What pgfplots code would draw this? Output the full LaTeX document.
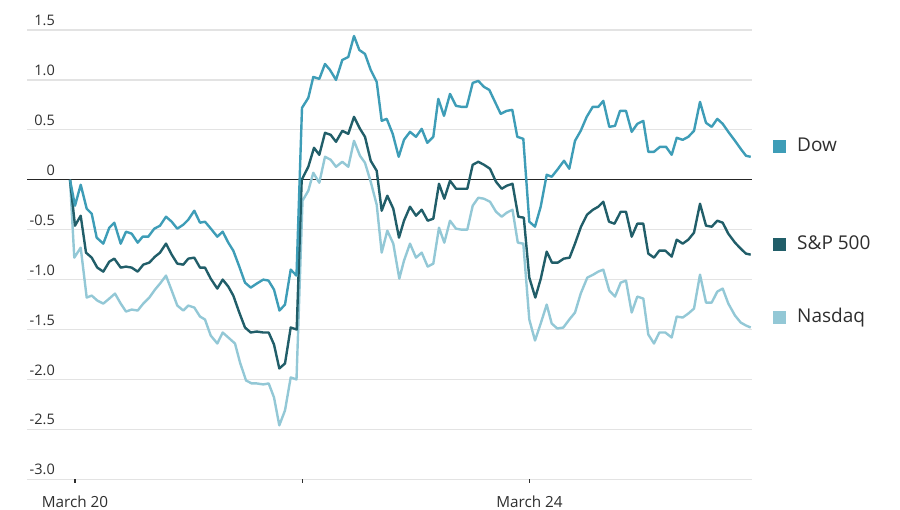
\documentclass[border=0pt]{standalone}
\usepackage{fontspec}
\setmainfont{Open Sans}
\usepackage{pgfplots}
\pgfplotsset{compat=1.18}
\definecolor{dow}{HTML}{3E9DB7}
\definecolor{sp}{HTML}{215E69}
\definecolor{nas}{HTML}{93C8D6}
\definecolor{txt}{HTML}{2E2E2E}
\definecolor{grd}{HTML}{E3E3E3}
\begin{document}
\begin{tikzpicture}[x=1pt,y=1pt]
\useasboundingbox (0,0) rectangle (900,510);
\begin{axis}[
 at={(27pt,30.7pt)}, anchor=south west,
 scale only axis, width=725pt, height=449.3pt,
 xmin=27, xmax=752, ymin=-3, ymax=1.5,
 axis line style={draw=none},
 ytick={-3,-2.5,-2,-1.5,-1,-0.5,0,0.5,1,1.5},
 yticklabels={-3.0,-2.5,-2.0,-1.5,-1.0,-0.5,0,0.5,1.0,1.5},
 ymajorgrids, grid style={grd, line width=1.2pt},
 ytick style={draw=none},
 yticklabel style={anchor=south east, inner sep=0pt, xshift=31.5pt, yshift=4pt, font=\fontsize{14.5}{14.5}\selectfont, text=txt},
 xtick={75,302.7,529.5}, xticklabels={March 20,,March 24},
 xtick style={draw=txt, line width=1.2pt}, tick align=outside, major tick length=3.5pt,
 tick pos=left,
 xticklabel style={anchor=north, inner sep=0pt, yshift=-13pt, font=\fontsize{15.3}{15.3}\selectfont, text=txt},
 every axis plot/.append style={no markers, line join=round, line width=2.4pt},
]
\addplot[forget plot, color=black!85, line width=1.2pt] coordinates {(27,0) (752,0)};
\addplot[nas] coordinates {
(70,0.00) (74.3,-0.78) (80.7,-0.68) (86.7,-1.18) (91.7,-1.16) (97.3,-1.21) (103.3,-1.24) (109.3,-1.19) (115,-1.14) (120.7,-1.24) (126,-1.32) (131.7,-1.30) (137.7,-1.31) (143.3,-1.24) (149.3,-1.18) (155,-1.10) (160,-1.04) (166,-0.96) (171.7,-1.11) (177.3,-1.26) (183.3,-1.31) (188.3,-1.26) (194.3,-1.28) (200,-1.37) (205,-1.40) (210.7,-1.56) (217.3,-1.64) (222.7,-1.53) (228.3,-1.58) (235,-1.64) (240,-1.83) (246,-2.01) (251.7,-2.04) (256.7,-2.04) (263.3,-2.05) (268.7,-2.04) (274,-2.18) (279.3,-2.46) (285,-2.31) (290.7,-1.98) (296.5,-2.00) (302.5,-0.21) (308.3,-0.11) (313.3,0.07) (319.3,-0.03) (325,0.23) (330.7,0.20) (336,0.13) (342.3,0.18) (348.3,0.13) (354,0.39) (360,0.24) (365,0.17) (370.7,-0.02) (376.7,-0.25) (381.7,-0.73) (387.3,-0.51) (393.3,-0.64) (399.3,-0.99) (404,-0.81) (410,-0.64) (416,-0.78) (421.7,-0.73) (427.7,-0.87) (433.3,-0.84) (439,-0.48) (444.3,-0.63) (450,-0.41) (456,-0.49) (461.7,-0.50) (467.3,-0.50) (472.7,-0.26) (478.3,-0.18) (484,-0.19) (490,-0.22) (496,-0.32) (501.7,-0.37) (506.7,-0.33) (512.5,-0.30) (517.8,-0.63) (523.3,-0.64) (529.3,-1.40) (535,-1.61) (540.7,-1.44) (546.7,-1.25) (551.7,-1.44) (557.3,-1.49) (563.3,-1.48) (569.3,-1.40) (575,-1.33) (580.7,-1.14) (587.3,-0.98) (593.3,-0.95) (598.3,-0.92) (603.3,-0.90) (609.3,-1.11) (615,-1.17) (620.7,-1.03) (626,-1.01) (631.7,-1.33) (637.3,-1.17) (643.3,-1.19) (648.3,-1.55) (654,-1.64) (659.3,-1.53) (665.3,-1.53) (671.7,-1.58) (676.7,-1.37) (682.7,-1.38) (688.3,-1.34) (694,-1.29) (700,-0.95) (706,-1.23) (711.7,-1.23) (717.3,-1.12) (722.7,-1.09) (728.3,-1.24) (735,-1.36) (740.7,-1.43) (746,-1.46) (750.7,-1.48)
};
\addplot[sp] coordinates {
(70,0.00) (75,-0.46) (80.7,-0.36) (86,-0.73) (91.7,-0.78) (97.3,-0.88) (103.3,-0.92) (109.3,-0.82) (114.3,-0.79) (120.7,-0.88) (126,-0.87) (131.7,-0.88) (137.7,-0.92) (143.3,-0.85) (149.3,-0.83) (155,-0.77) (160,-0.73) (166,-0.64) (171.7,-0.75) (177.3,-0.84) (183.3,-0.85) (188.3,-0.79) (194.3,-0.78) (200,-0.88) (205,-0.88) (210.7,-0.99) (217.3,-1.09) (222.7,-1.00) (228.3,-1.07) (233.3,-1.16) (239.3,-1.33) (245,-1.48) (250.7,-1.53) (256.7,-1.52) (263.3,-1.53) (268.7,-1.53) (274,-1.65) (279.3,-1.89) (285,-1.84) (290.7,-1.48) (296.7,-1.50) (301.7,0.00) (308.3,0.13) (314,0.32) (319.3,0.25) (325,0.47) (330.7,0.45) (336,0.38) (342.3,0.49) (348.3,0.46) (354,0.63) (360,0.51) (365,0.43) (370.7,0.19) (376.7,0.09) (381.7,-0.31) (387.3,-0.16) (393.3,-0.29) (399,-0.58) (404,-0.41) (410,-0.27) (416,-0.36) (421.7,-0.30) (427.7,-0.41) (433.3,-0.39) (439,-0.04) (444.3,-0.19) (450,-0.01) (456,-0.09) (461.7,-0.09) (467.3,-0.09) (472.7,0.15) (478.3,0.18) (484,0.15) (490,0.11) (496,-0.02) (501.7,-0.09) (506.7,-0.06) (512.5,-0.04) (518.3,-0.37) (523.8,-0.38) (529.3,-0.98) (535.3,-1.18) (540.8,-0.99) (546.7,-0.72) (552,-0.83) (557.8,-0.83) (563.8,-0.79) (569.6,-0.78) (575,-0.64) (581,-0.47) (587,-0.35) (593,-0.30) (598.3,-0.27) (603.3,-0.22) (609,-0.42) (614.5,-0.44) (620.7,-0.32) (626,-0.32) (631.7,-0.57) (637.3,-0.44) (643.3,-0.44) (648.3,-0.74) (654,-0.78) (659.3,-0.71) (665.3,-0.71) (671.7,-0.77) (676.7,-0.60) (682.7,-0.64) (688.3,-0.60) (694,-0.53) (700,-0.24) (706,-0.46) (711.7,-0.47) (717.3,-0.41) (722.7,-0.43) (728.3,-0.54) (735,-0.63) (740.7,-0.69) (746,-0.74) (750.7,-0.75)
};
\addplot[dow] coordinates {
(70,0.00) (75,-0.26) (80.7,-0.05) (86.7,-0.29) (91.7,-0.34) (96.7,-0.58) (103.3,-0.64) (109.3,-0.48) (114.3,-0.43) (120.7,-0.64) (126,-0.52) (131.7,-0.54) (137.7,-0.63) (142.7,-0.57) (148.3,-0.57) (154.3,-0.49) (160,-0.46) (166,-0.37) (171.7,-0.42) (177.3,-0.49) (183.3,-0.45) (188.3,-0.40) (194.3,-0.31) (200,-0.43) (205,-0.42) (211.7,-0.50) (217.3,-0.57) (222.7,-0.52) (228.3,-0.63) (233.3,-0.71) (239.3,-0.87) (245,-1.03) (250.7,-1.08) (256.7,-1.04) (263.3,-1.00) (268.5,-1.01) (274,-1.10) (279.5,-1.31) (285,-1.25) (290.7,-0.90) (296.5,-0.96) (302,0.72) (308.3,0.82) (313.3,1.03) (319.3,1.01) (325,1.16) (330,1.10) (336,1.00) (342.3,1.20) (348.3,1.23) (354,1.44) (359.3,1.30) (365,1.26) (370.7,1.10) (376.7,0.98) (381.7,0.59) (386.7,0.61) (392.7,0.46) (398.7,0.23) (404,0.40) (410,0.48) (416,0.43) (421.7,0.51) (427.3,0.37) (433.3,0.43) (438.3,0.81) (444,0.64) (450,0.86) (456,0.74) (461.7,0.73) (466.7,0.73) (472.7,0.97) (478.3,0.99) (484,0.93) (489.3,0.90) (495,0.78) (500.7,0.66) (506.7,0.69) (512.3,0.70) (517.3,0.43) (523.3,0.41) (529.3,-0.42) (535,-0.47) (540.7,-0.27) (546.7,0.05) (551.7,0.03) (557.3,0.10) (564,0.19) (569.3,0.11) (575,0.39) (580.7,0.49) (586.7,0.63) (592.7,0.73) (598.3,0.73) (603.3,0.79) (609.3,0.53) (615,0.54) (620,0.69) (626,0.69) (631.7,0.48) (637.3,0.56) (643.3,0.59) (648.3,0.28) (654,0.28) (660,0.33) (666,0.33) (671.7,0.25) (676.7,0.42) (682.7,0.40) (688.3,0.43) (694,0.49) (700,0.78) (706,0.57) (711.7,0.53) (717.3,0.61) (722.7,0.56) (728.3,0.48) (735,0.39) (740.7,0.31) (746,0.24) (750.7,0.23)
};
\end{axis}
\fill[dow] (773.2,357.2) rectangle (786.2,370.2);
\fill[sp] (773.2,258.8) rectangle (786.2,271.8);
\fill[nas] (773.2,186) rectangle (786.2,199);
\begin{scope}[every node/.style={anchor=base west, inner sep=0pt, text=txt, font=\fontsize{19}{19}\selectfont}]
\node at (797,358.3) {Dow};
\node at (797,260.7) {S\&P 500};
\node at (797,187.3) {Nasdaq};
\end{scope}
\end{tikzpicture}
\end{document}
